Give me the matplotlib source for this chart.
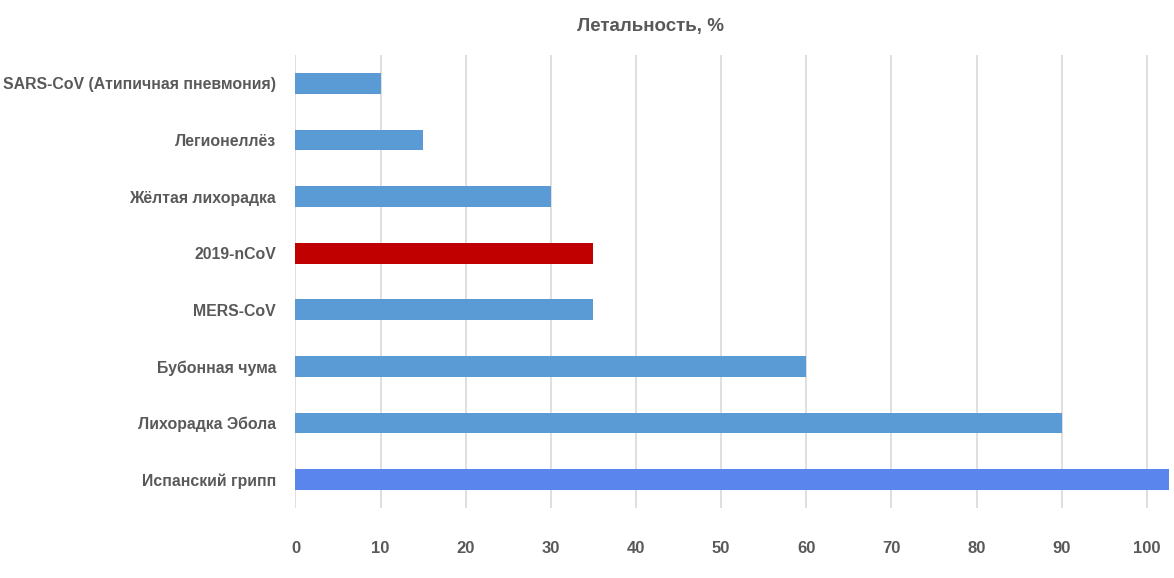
import matplotlib.pyplot as plt

# data (bottom to top)
diseases = ['Испанский грипп', 'Лихорадка Эбола', 'Бубонная чума', 'MERS-CoV',
            '2019-nCoV', 'Жёлтая лихорадка', 'Легионеллёз', 'SARS-CoV (Атипичная пневмония)']
lethality = [102.6, 90, 60, 35, 35, 30, 15, 10]
bar_colors = ['#5A85EC', '#5B9BD5', '#5B9BD5', '#5B9BD5',
              '#C00000', '#5B9BD5', '#5B9BD5', '#5B9BD5']
xticks = [0, 10, 20, 30, 40, 50, 60, 70, 80, 90, 100]

txt_color = '#595959'
plt.rcParams['font.family'] = ['Liberation Sans', 'DejaVu Sans']

fig = plt.figure(figsize=(11.74, 5.78), dpi=100)
ax = fig.add_axes([0.2517, 0.121, 0.7483, 0.784])

pos = range(len(diseases))
ax.barh(pos, lethality, height=0.365, color=bar_colors, zorder=3)

ax.set_xlim(0, 103.2)
ax.set_ylim(-0.5, 7.5)
ax.set_xticks(xticks)
ax.set_yticks(list(pos))
ax.set_yticklabels(diseases)
ax.grid(axis='x', color='#D9D9D9', linewidth=1.2, zorder=0)
ax.grid(axis='y', visible=False)
for s in ax.spines.values():
    s.set_visible(False)
ax.tick_params(axis='both', length=0, labelcolor=txt_color)
ax.tick_params(axis='x', pad=24, labelsize=12)
ax.tick_params(axis='y', pad=14, labelsize=11.4)
for lab in ax.get_xticklabels() + ax.get_yticklabels():
    lab.set_fontweight('bold')

fig.text(0.554, 0.955, 'Летальность, %', ha='center', va='center',
         fontsize=13.5, fontweight='bold', color=txt_color)

fig.savefig('out.png', dpi=100)
